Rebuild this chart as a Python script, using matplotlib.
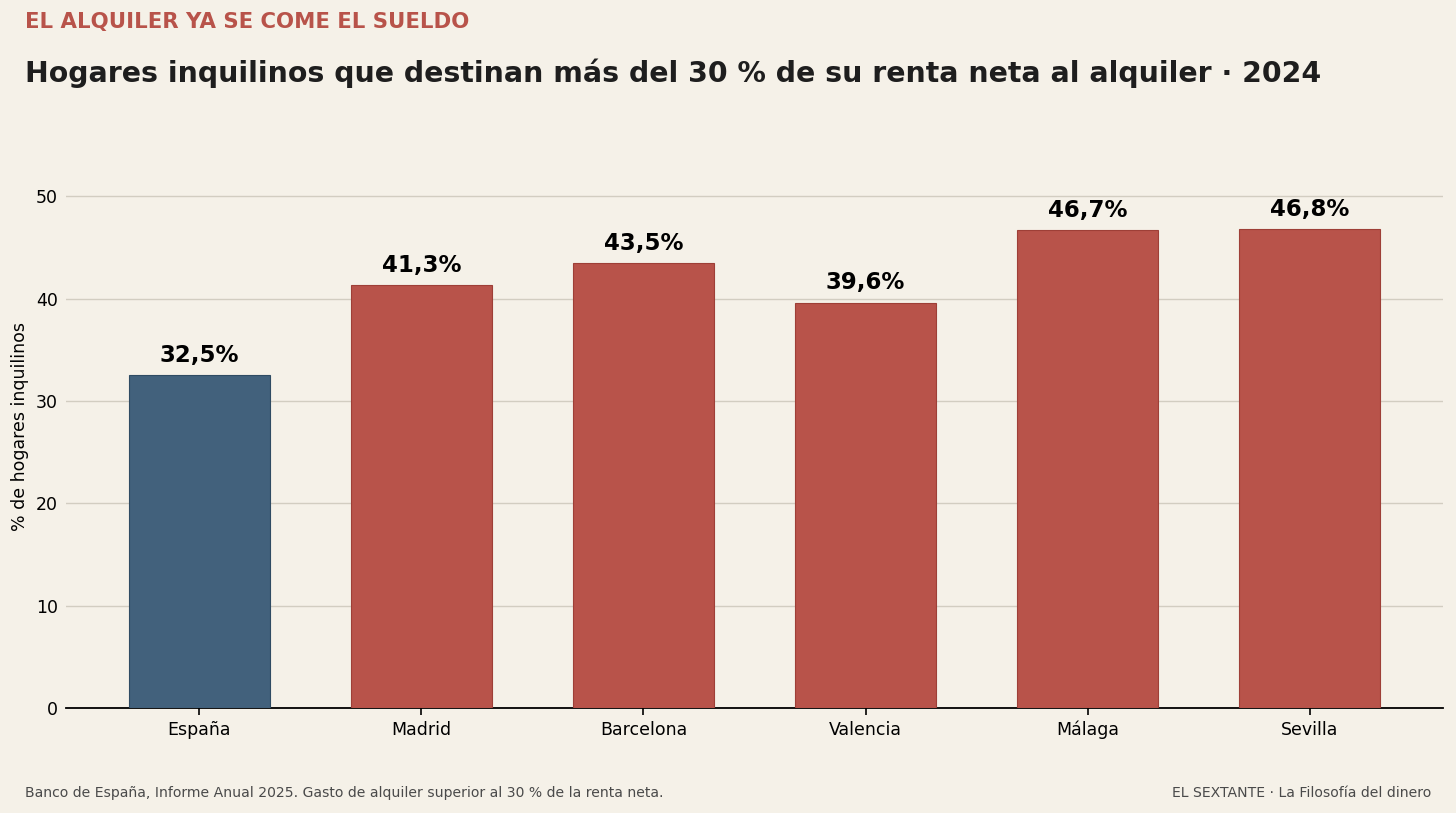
import matplotlib.pyplot as plt

categories = ['España', 'Madrid', 'Barcelona', 'Valencia', 'Málaga', 'Sevilla']
values = [32.5, 41.3, 43.5, 39.6, 46.7, 46.8]
labels = ['32,5%', '41,3%', '43,5%', '39,6%', '46,7%', '46,8%']

bg = '#F5F1E8'
blue = '#42617C'
red = '#B8534A'

fig = plt.figure(figsize=(14.56, 8.13), dpi=100, facecolor=bg)
ax = fig.add_axes([66 / 1456, 1 - 708 / 813, (1443 - 66) / 1456, (708 - 145) / 813])
ax.set_facecolor(bg)

colors = [blue] + [red] * (len(categories) - 1)
edges = ['#2F4B63'] + ['#9E3F37'] * (len(categories) - 1)
x = list(range(len(categories)))
bars = ax.bar(x, values, width=0.635, color=colors, edgecolor=edges, linewidth=0.8, zorder=3)

for b, lab in zip(bars, labels):
    ax.text(b.get_x() + b.get_width() / 2, b.get_height() + 0.8, lab,
            ha='center', va='bottom', fontsize=16.5, fontweight='bold', color='black')

ax.set_xlim(-0.6, 5.6)
ax.set_ylim(0, 55)
ax.set_yticks([0, 10, 20, 30, 40, 50])
ax.set_xticks(x)
ax.set_xticklabels(categories)
ax.tick_params(axis='x', labelsize=12.5, length=5, width=1.2, pad=4)
ax.tick_params(axis='y', labelsize=12.5, length=0, pad=6)
ax.grid(axis='y', color='#D2CDC1', linewidth=1, zorder=0)
for s in ['top', 'right', 'left']:
    ax.spines[s].set_visible(False)
ax.spines['bottom'].set_linewidth(1.3)
ax.set_ylabel('% de hogares inquilinos', fontsize=12.5)
ax.yaxis.set_label_coords(-0.027, 0.5)

fig.text(25 / 1456, 1 - 22 / 813, 'EL ALQUILER YA SE COME EL SUELDO', fontsize=15.3,
         fontweight='bold', color=red, ha='left', va='center')
fig.text(25 / 1456, 1 - 73 / 813, 'Hogares inquilinos que destinan más del 30 % de su renta neta al alquiler · 2024',
         fontsize=20.4, fontweight='bold', color='#1E1E1E', ha='left', va='center')
fig.text(25 / 1456, 1 - 793 / 813, 'Banco de España, Informe Anual 2025. Gasto de alquiler superior al 30 % de la renta neta.',
         fontsize=10.1, color='#4A4A4A', ha='left', va='center')
fig.text(1431 / 1456, 1 - 793 / 813, 'EL SEXTANTE · La Filosofía del dinero',
         fontsize=10.1, color='#4A4A4A', ha='right', va='center')

fig.savefig('out.png', dpi=100, facecolor=bg)
